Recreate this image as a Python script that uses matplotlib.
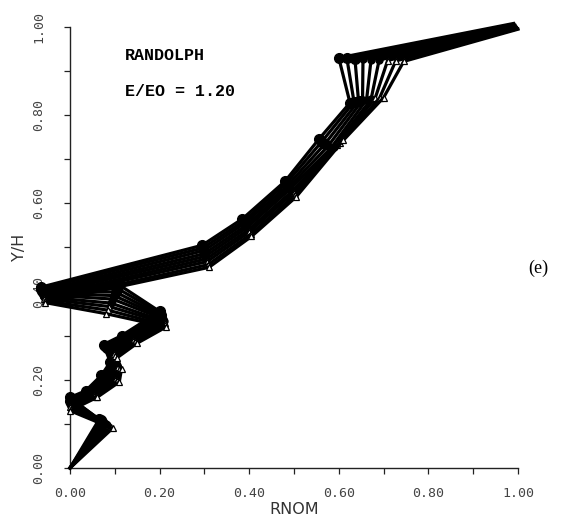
import matplotlib
matplotlib.use("Agg")
import matplotlib.pyplot as plt
from matplotlib.ticker import MultipleLocator, FormatStrFormatter

# ---- data: family of RNOM profiles (x = RNOM, y = Y/H) ----
x_A = [0, .065, .000, .035, .070, .090, .075, .115, .200, .110, -.065, .295, .385, .480, .555, .625, .600, .990]
y_A = [0, .110, .160, .175, .210, .240, .280, .300, .355, .415, .410, .505, .565, .650, .745, .828, .930, 1.008]
x_B = [0, .069, .002, .038, .075, .093, .079, .119, .202, .106, -.064, .297, .388, .483, .562, .634, .618, .991]
y_B = [0, .108, .156, .173, .208, .238, .276, .298, .351, .407, .406, .499, .560, .646, .740, .830, .929, 1.006]
x_C = [0, .072, .000, .041, .080, .096, .082, .124, .204, .102, -.063, .299, .390, .486, .569, .644, .636, .993]
y_C = [0, .105, .152, .171, .206, .236, .272, .296, .346, .399, .401, .493, .555, .641, .735, .832, .928, 1.004]
x_D = [0, .076, .003, .044, .085, .099, .086, .128, .206, .098, -.062, .300, .393, .489, .576, .653, .654, .994]
y_D = [0, .103, .149, .169, .204, .234, .269, .294, .342, .391, .397, .486, .550, .637, .730, .834, .927, 1.002]
x_E = [0, .080, .000, .047, .090, .102, .090, .132, .208, .095, -.060, .302, .395, .492, .582, .662, .672, .995]
y_E = [0, .100, .145, .168, .203, .233, .265, .292, .338, .383, .393, .480, .545, .633, .725, .835, .926, 1.000]
x_F = [0, .083, .002, .050, .095, .105, .094, .136, .209, .091, -.059, .304, .398, .496, .589, .672, .690, .996]
y_F = [0, .098, .141, .166, .201, .231, .261, .290, .333, .374, .388, .474, .540, .628, .728, .836, .925, .999]
x_G = [0, .087, .000, .053, .100, .108, .098, .141, .211, .088, -.058, .306, .400, .499, .596, .681, .709, .997]
y_G = [0, .095, .138, .164, .199, .229, .258, .288, .329, .366, .384, .468, .535, .624, .733, .838, .924, .998]
x_H = [0, .091, .003, .057, .105, .112, .101, .145, .213, .084, -.056, .308, .403, .502, .603, .691, .727, .999]
y_H = [0, .093, .134, .162, .197, .227, .254, .285, .324, .358, .379, .461, .530, .619, .738, .839, .923, .996]
x_I = [0, .095, .000, .060, .110, .115, .105, .150, .215, .080, -.055, .310, .405, .505, .610, .700, .745, 1.000]
y_I = [0, .090, .130, .160, .195, .225, .250, .283, .320, .350, .375, .455, .525, .615, .743, .840, .922, .995]

curves_x = [x_A, x_B, x_C, x_D, x_E, x_F, x_G, x_H, x_I]
curves_y = [y_A, y_B, y_C, y_D, y_E, y_F, y_G, y_H, y_I]
markers = ['o', 'o', 'o', 'o', 'o', 'o', '^', '^', '^']

xticks = [0.0, 0.2, 0.4, 0.6, 0.8, 1.0]
yticks = [0.0, 0.2, 0.4, 0.6, 0.8, 1.0]

title_lines = ["RANDOLPH", "E/EO = 1.20"]

# ---- figure ----
W, H = 569, 527
fig = plt.figure(figsize=(W / 100, H / 100), dpi=100)
ax = fig.add_axes([70 / W, 1 - 468 / H, 448 / W, 441 / H])
ax.set_xlim(0, 1)
ax.set_ylim(0, 1)

for i, (xs, ys) in enumerate(zip(curves_x, curves_y)):
    m = markers[i]
    if m == '^':
        ax.plot(xs, ys, color='black', lw=2.3, marker=m, ms=5, markevery=slice(1, -1),
                mfc='white', mec='black', mew=0.9, clip_on=False, zorder=3)
    else:
        ax.plot(xs, ys, color='black', lw=2.3, marker=m, ms=7 if i < 3 else 5,
                markevery=slice(1, -1),
                mfc='black', mec='black', clip_on=False, zorder=3)

for s in ['top', 'right']:
    ax.spines[s].set_visible(False)
for s in ['left', 'bottom']:
    ax.spines[s].set_linewidth(1.0)
    ax.spines[s].set_color('#222222')

ax.set_xticks(xticks)
ax.set_yticks(yticks)
ax.xaxis.set_minor_locator(MultipleLocator(0.1))
ax.yaxis.set_minor_locator(MultipleLocator(0.1))
ax.xaxis.set_major_formatter(FormatStrFormatter('%.2f'))
ax.yaxis.set_major_formatter(FormatStrFormatter('%.2f'))
ax.tick_params(which='both', direction='out', length=4, width=0.9, color='#222222')
ax.tick_params(axis='x', which='major', pad=10, labelsize=9.5, labelcolor='#444444')
ax.tick_params(axis='y', which='major', pad=14, labelsize=9.5, labelcolor='#444444')
for lab in ax.get_xticklabels() + ax.get_yticklabels():
    lab.set_family('DejaVu Sans Mono')
for lab in ax.get_yticklabels():
    lab.set_rotation(90)
    lab.set_va('center')

ax.text(0.5, -0.095, 'RNOM', transform=ax.transAxes, ha='center', va='center',
        fontsize=11.5, color='#333333', family='DejaVu Sans')
ax.text(-0.112, 0.5, 'Y/H', transform=ax.transAxes, ha='center', va='center',
        rotation=90, fontsize=11.5, color='#333333', family='DejaVu Sans')

ax.text(0.123, 0.936, title_lines[0], transform=ax.transData, ha='left', va='center',
        fontsize=12, fontweight='bold', family='Liberation Mono', color='black')
ax.text(0.123, 0.853, title_lines[1], transform=ax.transData, ha='left', va='center',
        fontsize=12, fontweight='bold', family='Liberation Mono', color='black')

fig.text(538 / W, 1 - 268 / H, '(e)', ha='center', va='center', fontsize=13,
         family='Liberation Serif', color='black')

fig.savefig('out.png', dpi=100, facecolor='white')
